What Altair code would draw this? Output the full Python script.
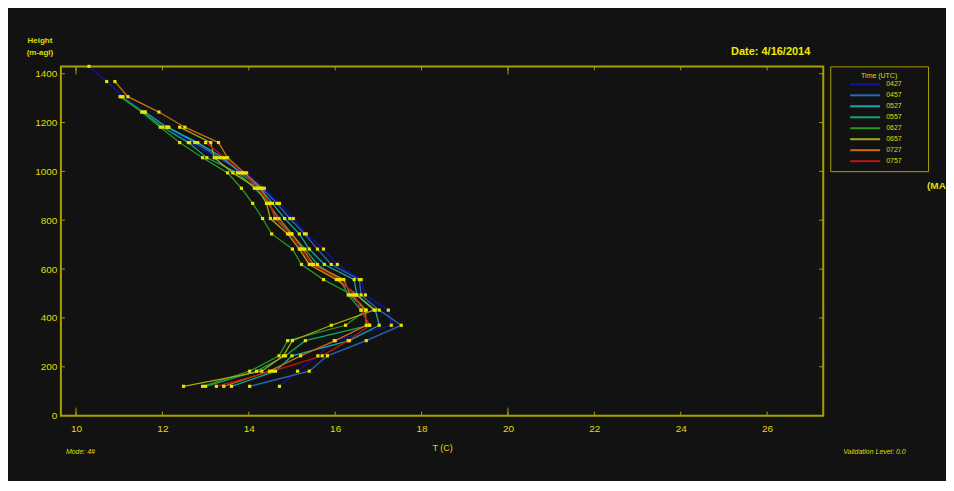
import altair as alt
import pandas as pd

# ---- data -------------------------------------------------------------
heights = [120, 182, 245, 307, 370, 432, 494, 557, 619, 682, 744,
           807, 869, 931, 994, 1056, 1118, 1181, 1243, 1306, 1368, 1430]

times = ["0427", "0457", "0527", "0557", "0627", "0657", "0727", "0757"]
colors = ["#1414a0", "#2468c0", "#14a8a8", "#14a868", "#2c9620", "#a8a814", "#c86e14", "#c01414"]

t_0427 = [14.71, 15.13, 15.60, 15.98, 17.30, 17.23, 16.70, 16.60, 16.05, 15.73, 15.33,
          15.03, 14.71, 14.36, 13.95, 13.26, 12.63, 12.12, 11.60, 11.09, 10.71, 10.30]
t_0457 = [14.02, 15.40, 15.82, 16.72, 17.53, 17.02, 16.60, 16.56, 15.91, 15.59, 15.29,
          14.95, 14.65, 14.30, 13.86, 13.33, 12.75, 12.15, None, None, None, None]
t_0527 = [13.60, 14.62, 15.00, 16.33, 17.02, 16.93, 16.50, 16.44, 15.75, 15.40, 15.17,
          14.83, 14.55, 14.25, 13.80, 13.40, 12.82, 12.10, 11.60, None, None, None]
t_0557 = [13.00, 14.18, 14.85, 15.31, 16.79, 16.60, 16.30, 16.12, 15.59, 15.30, 14.99,
          14.62, 14.48, 14.13, 13.74, 13.03, 12.60, 12.01, 11.55, 11.05, None, None]
t_0627 = [12.93, 14.02, 14.70, 14.90, 16.24, 16.72, 16.40, 15.73, 15.22, 15.01, 14.53,
          14.32, 14.09, 13.83, 13.51, 12.93, 12.40, 11.95, 11.52, 11.02, None, None]
t_0657 = [12.49, 14.30, 14.80, 15.01, 15.91, 16.90, 16.50, 16.03, 15.40, 15.17, 14.90,
          14.50, 14.41, 14.20, 13.63, 13.20, 13.12, 12.40, None, None, None, None]
t_0727 = [13.42, 14.48, 15.20, 16.00, 16.72, 16.70, 16.35, 16.20, 15.50, 15.25, 15.00,
          14.70, 14.45, 14.30, 13.90, 13.51, 13.30, 12.52, 11.92, 11.20, 10.90, None]
t_0757 = [13.25, 14.55, 15.70, 16.30, 16.80, 16.60, 16.45, 16.10, 15.45, 15.20, 14.95,
          14.60, 14.50, 14.20, 13.85, 13.45, 13.00, None, None, None, None, None]

series = [t_0427, t_0457, t_0527, t_0557, t_0627, t_0657, t_0727, t_0757]

x_ticks = [10, 12, 14, 16, 18, 20, 22, 24, 26]
x_major = [10, 20]
y_ticks = [0, 200, 400, 600, 800, 1000, 1200, 1400]

rows = []
for name, vals in zip(times, series):
    for h, t in zip(heights, vals):
        if t is not None:
            rows.append({"time": name, "H": h, "T": t})
df = pd.DataFrame(rows)

# ---- style ------------------------------------------------------------
BG = "#121212"
FRAME = "#a8a000"
YEL = "#e0dc00"
FONT = "Liberation Sans"
W, H = 764, 350

xs = alt.Scale(domain=[9.65, 27.3], nice=False, zero=False)
ys = alt.Scale(domain=[0, 1430], nice=False, zero=False)

xaxis = alt.Axis(values=x_ticks, ticks=False, domain=False, grid=False, labelColor=YEL,
                 labelFontSize=10, labelFont=FONT, labelPadding=8, title="T (C)",
                 titleColor=YEL, titleFontSize=9, titleFontWeight="normal", titleFont=FONT,
                 titlePadding=10)
yaxis = alt.Axis(values=y_ticks, ticks=False, domain=False, grid=False, labelColor=YEL,
                 labelFontSize=10, labelFont=FONT, labelPadding=4, title="", format="d")

PAD = "\u2800" * 4
legend = alt.Legend(title="Time (UTC)", orient="none", legendX=771, legendY=0,
                    direction="vertical", symbolType="M-3.75,0H3.75", symbolSize=64,
                    symbolStrokeWidth=2, rowPadding=2, labelColor=YEL, labelFontSize=7,
                    labelFont=FONT, titleColor=YEL, titleFontSize=7, titleFont=FONT,
                    titleFontWeight="normal", titleAnchor="middle", padding=6,
                    strokeColor=FRAME, symbolOffset=24, labelOffset=16, titlePadding=0,
                    labelExpr="datum.label + '" + PAD + "'")

X = lambda f: alt.X(f, scale=xs, axis=xaxis)
Y = lambda f: alt.Y(f, scale=ys, axis=yaxis)

lines = alt.Chart(df).mark_line(strokeWidth=1.3).encode(
    x=X("T:Q"), y=Y("H:Q"),
    color=alt.Color("time:N", scale=alt.Scale(domain=times, range=colors), legend=legend),
    order="H:Q",
)
points = alt.Chart(df).mark_square(size=10, color="#e8e400", opacity=1).encode(
    x=X("T:Q"), y=Y("H:Q"),
)

# inward tick marks on all four sides
xt = pd.DataFrame({"T": x_ticks})
xm = pd.DataFrame({"T": x_major})
yt = pd.DataFrame({"H": y_ticks})
tick_style = dict(color=FRAME, strokeWidth=1)
xb = alt.Chart(xt).mark_rule(**tick_style).encode(
    x=X("T:Q"), y=alt.value(H), y2=alt.value(H - 4))
xbm = alt.Chart(xm).mark_rule(**tick_style).encode(
    x=X("T:Q"), y=alt.value(H), y2=alt.value(H - 8))
xtp = alt.Chart(xt).mark_rule(**tick_style).encode(
    x=X("T:Q"), y=alt.value(0), y2=alt.value(4))
xtpm = alt.Chart(xm).mark_rule(**tick_style).encode(
    x=X("T:Q"), y=alt.value(0), y2=alt.value(8))
yl = alt.Chart(yt).mark_rule(**tick_style).encode(
    y=Y("H:Q"), x=alt.value(0), x2=alt.value(4))
yr = alt.Chart(yt).mark_rule(**tick_style).encode(
    y=Y("H:Q"), x=alt.value(W - 4), x2=alt.value(W))


def label(text, x, y, size=7, weight="normal", style="normal", align="left", color=YEL):
    return alt.Chart(pd.DataFrame({"t": [text]})).mark_text(
        fontSize=size, fontWeight=weight, fontStyle=style, align=align, baseline="middle",
        color=color, font=FONT).encode(text="t:N", x=alt.value(x), y=alt.value(y))


texts = [
    label("Height", -21, -25, size=8, weight="bold", align="center"),
    label("(m-agl)", -21, -13, size=8, weight="bold", align="center"),
    label("Date:  4/16/2014", 751, -14, size=11, weight="bold", align="right", color="#f0ec00"),
    label("(MA", 868, 120, size=10, weight="bold"),
    label("Mode:  4#", 5, 386, size=7, style="italic"),
    label("Validation Level:  0.0", 784, 386, size=7, style="italic"),
]

chart = alt.layer(lines, points, xb, xbm, xtp, xtpm, yl, yr, *texts).properties(
    width=W, height=H,
    background=BG,
    autosize=alt.AutoSizeParams(type="none"),
    padding={"left": 53, "top": 58, "right": 123, "bottom": 65},
).configure_view(stroke=FRAME, strokeWidth=2)

chart.save("out.html", embed_options={"renderer": "svg", "actions": False})
